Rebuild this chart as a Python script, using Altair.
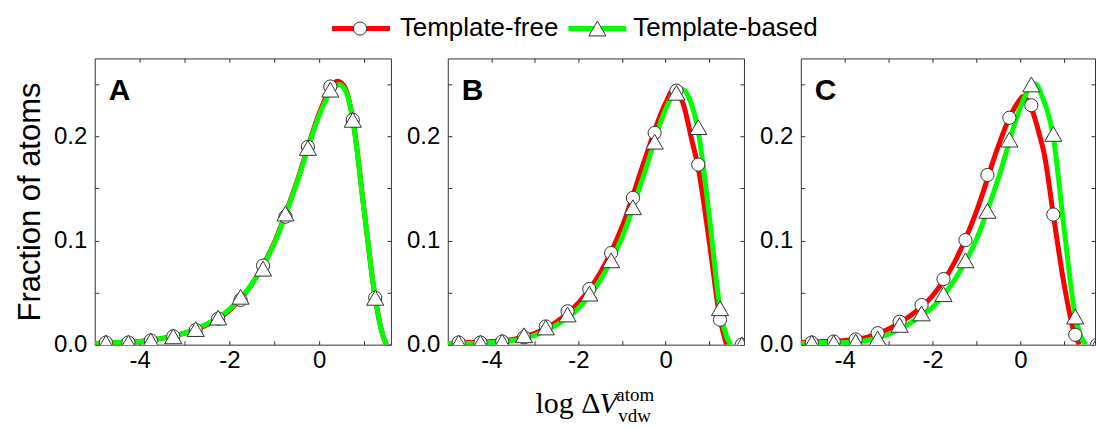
import altair as alt
import pandas as pd

SERIES = ["Template-free", "Template-based"]
COLORS = ["#ff0000", "#00ff00"]
PANELS = ["A", "B", "C"]
Y_TITLE = "Fraction of atoms"
X_TITLE_MAIN = "log Δ"
X_TITLE_VAR = "V"
X_TITLE_SUP = "atom"
X_TITLE_SUB = "vdw"

X_TICKS = [-4, -3, -2, -1, 0, 1]
Y_TICKS = [0, 0.05, 0.1, 0.15, 0.2, 0.25]
Y_DOMAIN = [0, 0.275]

MARK_X_A = [-4.75, -4.25, -3.75, -3.25, -2.75, -2.25, -1.75, -1.25, -0.75, -0.25, 0.25, 0.75, 1.25]
MARK_X_BC = [-4.75, -4.25, -3.75, -3.25, -2.75, -2.25, -1.75, -1.25, -0.75, -0.25, 0.25, 0.75, 1.25, 1.75]

# Panel A
A_FREE_PTS = [0.002, 0.002, 0.004, 0.008, 0.014, 0.025, 0.043, 0.076, 0.123, 0.190, 0.248, 0.216, 0.045]
A_BASED_PTS = [0.002, 0.002, 0.004, 0.008, 0.015, 0.026, 0.046, 0.073, 0.126, 0.189, 0.245, 0.216, 0.045]
A_FREE_CX = [-5, -4.5, -4, -3.5, -3, -2.5, -2, -1.5, -1, -0.5, 0, 0.25, 0.4, 0.55, 0.75, 1, 1.25, 1.4, 1.5]
A_FREE_CY = [0.001, 0.002, 0.003, 0.006, 0.011, 0.019, 0.033, 0.058, 0.098, 0.156, 0.222, 0.246, 0.253, 0.249, 0.217, 0.13, 0.045, 0.012, 0.0]
A_BASED_CX = [-5, -4.5, -4, -3.5, -3, -2.5, -2, -1.5, -1, -0.5, 0, 0.25, 0.45, 0.6, 0.75, 1, 1.25, 1.4, 1.5]
A_BASED_CY = [0.001, 0.002, 0.003, 0.006, 0.011, 0.020, 0.034, 0.058, 0.097, 0.155, 0.220, 0.243, 0.250, 0.243, 0.216, 0.13, 0.045, 0.012, 0.0]

# Panel B
B_FREE_PTS = [0.002, 0.002, 0.003, 0.007, 0.0175, 0.032, 0.0535, 0.088, 0.141, 0.2035, 0.244, 0.173, 0.024, 0.0]
B_BASED_PTS = [0.002, 0.002, 0.003, 0.009, 0.0165, 0.029, 0.049, 0.081, 0.132, 0.195, 0.242, 0.209, 0.035, 0.0]
B_FREE_CX = [-5, -4.5, -4, -3.5, -3, -2.5, -2, -1.5, -1, -0.5, 0, 0.18, 0.4, 0.6, 0.75, 1, 1.25, 1.4]
B_FREE_CY = [0.001, 0.002, 0.003, 0.005, 0.011, 0.022, 0.040, 0.069, 0.113, 0.175, 0.232, 0.2445, 0.232, 0.197, 0.170, 0.10, 0.025, 0.0]
B_BASED_CX = [-5, -4.5, -4, -3.5, -3, -2.5, -2, -1.5, -1, -0.5, 0, 0.2, 0.38, 0.55, 0.75, 1, 1.25, 1.4, 1.5]
B_BASED_CY = [0.001, 0.001, 0.002, 0.004, 0.009, 0.019, 0.035, 0.062, 0.103, 0.163, 0.226, 0.242, 0.2455, 0.236, 0.205, 0.125, 0.035, 0.008, 0.0]

# Panel C
C_FREE_PTS = [0.002, 0.003, 0.005, 0.011, 0.022, 0.038, 0.063, 0.1005, 0.163, 0.218, 0.230, 0.125, 0.0095, 0.0]
C_BASED_PTS = [0.002, 0.002, 0.003, 0.006, 0.019, 0.030, 0.0485, 0.081, 0.1285, 0.197, 0.250, 0.2025, 0.027, 0.0]
C_FREE_CX = [-5, -4.5, -4, -3.5, -3, -2.5, -2, -1.5, -1, -0.5, -0.25, 0, 0.05, 0.27, 0.42, 0.55, 0.75, 1, 1.25, 1.35]
C_FREE_CY = [0.002, 0.003, 0.004, 0.007, 0.015, 0.028, 0.047, 0.079, 0.128, 0.191, 0.218, 0.236, 0.2385, 0.225, 0.204, 0.182, 0.125, 0.057, 0.008, 0.0]
C_BASED_CX = [-5, -4.5, -4, -3.5, -3, -2.5, -2, -1.5, -1, -0.5, 0, 0.2, 0.34, 0.5, 0.75, 1, 1.25, 1.4, 1.5]
C_BASED_CY = [0.001, 0.002, 0.002, 0.004, 0.010, 0.021, 0.036, 0.062, 0.101, 0.160, 0.228, 0.2465, 0.2505, 0.238, 0.200, 0.11, 0.028, 0.006, 0.0]

X_DOMAINS = [[-5, 1.6], [-5, 1.8], [-5, 1.7]]
WIDTHS = [297, 297, 295]
HEIGHT = 287

SANS = "Liberation Sans"
SERIF = "Liberation Serif"
AX = "#333333"
MARK_STROKE = "#333333"


def text_layer(txt, x, y, size, font=SANS, weight="normal", style="normal", baseline="alphabetic"):
    return alt.Chart(pd.DataFrame({"t": [txt]})).mark_text(
        align="left", baseline=baseline, fontSize=size, font=font,
        fontWeight=weight, fontStyle=style, color="black"
    ).encode(x=alt.value(x), y=alt.value(y), text="t:N")


def panel(i, mark_x, free_pts, based_pts, fcx, fcy, bcx, bcy):
    xs = alt.Scale(domain=X_DOMAINS[i], nice=False, zero=False)
    ys = alt.Scale(domain=Y_DOMAIN, nice=False, zero=False)
    free_curve = pd.DataFrame({"x": fcx, "y": fcy})
    based_curve = pd.DataFrame({"x": bcx, "y": bcy})
    free_pts_df = pd.DataFrame({"x": mark_x, "y": free_pts})
    based_pts_df = pd.DataFrame({"x": mark_x, "y": based_pts})

    x_bottom = alt.Axis(
        orient="bottom", values=X_TICKS,
        labelExpr="datum.value % 2 == 0 ? toString(datum.value) : ''",
        offset=-4, tickSize=4, domain=False, labelPadding=4, labelFontSize=24,
        labelFont=SANS, labelColor="black", tickColor=AX, title=None, grid=False,
        labelFlush=False, labelOverlap=False,
    )
    y_left_kwargs = dict(
        orient="left", values=Y_TICKS,
        labelExpr="round(datum.value * 20) % 2 == 0 ? format(datum.value, '.1f') : ''",
        offset=-4, tickSize=4, domain=False, labelPadding=8, labelFontSize=24,
        labelFont=SANS, labelColor="black", tickColor=AX, grid=False,
        labelOverlap=False, labelFlush=False,
    )
    if i == 0:
        y_left = alt.Axis(title=Y_TITLE, titleFont=SANS, titleFontSize=31,
                          titleFontWeight="normal", titleColor="black", titlePadding=7,
                          **y_left_kwargs)
    else:
        y_left = alt.Axis(title=None, **y_left_kwargs)
    x_top = alt.Axis(orient="top", values=X_TICKS, labels=False, offset=-4, tickSize=4,
                     domain=False, tickColor=AX, title=None, grid=False)
    y_right = alt.Axis(orient="right", values=Y_TICKS, labels=False, offset=-4, tickSize=4,
                       domain=False, tickColor=AX, title=None, grid=False)

    red = alt.Chart(free_curve).mark_line(
        color=COLORS[0], strokeWidth=5, interpolate="monotone", clip=True
    ).encode(x=alt.X("x:Q", scale=xs, axis=x_bottom), y=alt.Y("y:Q", scale=ys, axis=y_left))
    green = alt.Chart(based_curve).mark_line(
        color=COLORS[1], strokeWidth=5, interpolate="monotone", clip=True
    ).encode(x=alt.X("x:Q", scale=xs, axis=x_top), y=alt.Y("y:Q", scale=ys, axis=y_right))
    circles = alt.Chart(free_pts_df).mark_point(
        shape="circle", size=175, filled=True, fill="white", stroke=MARK_STROKE,
        strokeWidth=1, opacity=1, clip=True
    ).encode(x=alt.X("x:Q", scale=xs, axis=None), y=alt.Y("y:Q", scale=ys, axis=None))
    tris = alt.Chart(based_pts_df).mark_point(
        shape="triangle-up", size=295, filled=True, fill="white", stroke=MARK_STROKE,
        strokeWidth=1, opacity=1, clip=True
    ).encode(x=alt.X("x:Q", scale=xs, axis=None), y=alt.Y("y:Q", scale=ys, axis=None))

    layers = [red, green, circles, tris,
              text_layer(PANELS[i], 14, 42, 30, weight="bold")]

    if i == 1:
        # legend
        one = pd.DataFrame({"k": [0]})
        layers += [
            alt.Chart(one).mark_rule(color=COLORS[0], strokeWidth=5).encode(
                x=alt.value(-116), x2=alt.value(-58), y=alt.value(-30)),
            alt.Chart(one).mark_point(shape="circle", size=175, filled=True, fill="white",
                                      stroke=MARK_STROKE, strokeWidth=1, opacity=1).encode(
                x=alt.value(-88), y=alt.value(-30)),
            text_layer(SERIES[0], -48, -30, 26, baseline="middle"),
            alt.Chart(one).mark_rule(color=COLORS[1], strokeWidth=5).encode(
                x=alt.value(121), x2=alt.value(179), y=alt.value(-30)),
            alt.Chart(one).mark_point(shape="triangle-up", size=295, filled=True, fill="white",
                                      stroke=MARK_STROKE, strokeWidth=1, opacity=1).encode(
                x=alt.value(150), y=alt.value(-30)),
            text_layer(SERIES[1], 186, -30, 26, baseline="middle"),
            # x-axis title
            text_layer(X_TITLE_MAIN, 88, 356, 30, font=SERIF),
            text_layer(X_TITLE_VAR, 152, 356, 30, font=SERIF, style="italic"),
            text_layer(X_TITLE_SUP, 169, 344, 19, font=SERIF),
            text_layer(X_TITLE_SUB, 171, 365, 19, font=SERIF),
        ]

    return alt.layer(*layers).resolve_axis(x="independent", y="independent").properties(
        width=WIDTHS[i], height=HEIGHT)


pA = panel(0, MARK_X_A, A_FREE_PTS, A_BASED_PTS, A_FREE_CX, A_FREE_CY, A_BASED_CX, A_BASED_CY)
pB = panel(1, MARK_X_BC, B_FREE_PTS, B_BASED_PTS, B_FREE_CX, B_FREE_CY, B_BASED_CX, B_BASED_CY)
pC = panel(2, MARK_X_BC, C_FREE_PTS, C_BASED_PTS, C_FREE_CX, C_FREE_CY, C_BASED_CX, C_BASED_CY)

chart = alt.hconcat(pA, pB, pC, spacing=57, bounds="flush").properties(
    padding={"left": 14, "top": 14, "right": 0, "bottom": 0},
    background="white",
).configure_view(stroke=AX, strokeWidth=1)

chart.save("out.html", embed_options={"renderer": "svg", "actions": False})
